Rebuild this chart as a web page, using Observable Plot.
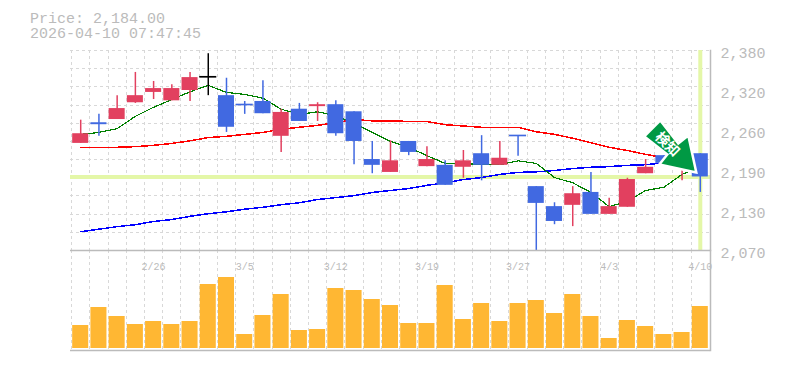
<!DOCTYPE html>
<html><head><meta charset="utf-8">
<script src="https://cdn.jsdelivr.net/npm/d3@7"></script>
<script src="https://cdn.jsdelivr.net/npm/@observablehq/plot@0.6"></script>
<style>
html,body{margin:0;padding:0;background:#fff;overflow:hidden}
#title{font:15px/15px "Liberation Mono",monospace;color:#bbb;padding:12px 0 0 30px;height:28px;white-space:pre}
svg{display:block}
</style></head><body>
<div id="title">Price: 2,184.00
2026-04-10 07:47:45</div>
<div id="chart"></div>
<script>
const dates=["2/19","2/20","2/24","2/25","2/26","2/27","3/2","3/3","3/4","3/5","3/6","3/9","3/10","3/11","3/12","3/13","3/16","3/17","3/18","3/19","3/23","3/24","3/25","3/26","3/27","3/30","3/31","4/1","4/2","4/3","4/6","4/7","4/8","4/9","4/10"];
const opens=[2236,2268,2273,2299,2315,2302,2318,2339,2310,2296,2301,2247,2289,2293,2296,2285,2211,2191,2239,2200,2202,2199,2220,2202,2248,2169,2138,2140,2160,2126,2137,2189,2217,2197,2220];
const highs=[2272,2281,2310,2346,2332,2327,2346,2375,2337,2301,2333,2289,2298,2299,2302,2285,2239,2240,2239,2231,2209,2225,2248,2239,2248,2169,2144,2169,2191,2151,2182,2211,2217,2209,2220];
const lows=[2236,2247,2273,2298,2304,2302,2301,2310,2253,2281,2282,2222,2270,2270,2247,2203,2189,2191,2217,2200,2171,2182,2178,2202,2216,2070,2110,2107,2126,2126,2137,2189,2205,2178,2160];
const closes=[2251,2265,2290,2310,2321,2321,2338,2338,2261,2295,2282,2284,2270,2296,2251,2239,2202,2209,2222,2211,2171,2209,2202,2213,2247,2143,2115,2158,2126,2138,2180,2199,2205,2209,2184];
const maShort=[2250,2253,2259,2278,2292,2304,2316,2326,2315,2312,2306,2289,2281,2285,2279,2267,2253,2239,2230,2217,2205,2205,2203,2203,2209,2205,2183,2175,2160,2138,2146,2163,2168,2188,2199];
const maMid=[2230,2230,2230,2231,2233,2236,2240,2245,2247,2250,2253,2258,2261,2264,2268,2273,2271,2271,2270,2270,2265,2263,2261,2261,2261,2254,2250,2244,2237,2230,2225,2219,2214,2209,2205];
const maLong=[2099,2103,2107,2110,2115,2118,2123,2127,2130,2134,2137,2141,2144,2149,2152,2155,2160,2163,2166,2171,2175,2180,2183,2188,2191,2192,2194,2197,2199,2200,2202,2203,2206,2209,2212];
const volume=[23,41,32,24,27,24,27,64,71,14,33,54,18,19,60,58,49,43,25,25,63,29,45,27,45,48,35,54,32,10,28,22,14,16,42];
const dateTicks=["2/26","3/5","3/12","3/19","3/27","4/3","4/10"];
const priceTicks=[2070,2132,2194,2256,2318,2380];
const lastPrice=2184, lastDate="4/10", flatDate="3/3", signalPrice=2191, signalLabel="検知";

const rows=dates.map((date,i)=>({date,open:opens[i],high:highs[i],low:lows[i],close:closes[i],short:maShort[i],mid:maMid[i],long:maLong[i],volume:volume[i]}));
const candleColor=d=>d.date===flatDate?"#000":d.close>d.open?"#e2405f":"#4169e1";
const gridC="#d8d8d8", axisC="#bbb", font='"Liberation Mono",monospace';
const base={width:785,marginLeft:70,marginRight:75,style:{background:"transparent",overflow:"visible",fontFamily:font}};
const xScale={domain:dates,padding:0.12,round:false,axis:null};
const dash={stroke:gridC,strokeWidth:1,strokeDasharray:"3,3",shapeRendering:"crispEdges"};
const gridRule=()=>Plot.ruleX(dates,{x:d=>d,dx:-9.1,...dash});
const arrow={draw(c,size){const s=Math.sqrt(size);
  [[-.74,-.16],[-.58,-.36],[-1.04,-.72],[-.72,-1.04],[-.36,-.58],[-.16,-.74]].reduce((ctx,[a,b])=>(ctx.lineTo(a*s,b*s),ctx),(c.moveTo(0,0),c));
  c.closePath();}};

const upper=Plot.plot({...base,height:210,marginTop:10,marginBottom:0,
  x:xScale,
  y:{domain:[2070,2380],axis:null},
  marks:[
    Plot.ruleY(d3.range(2070,2380.1,310/11),{y:d=>d,...dash}),
    gridRule(),
    Plot.ruleY([lastPrice],{stroke:"#e4f7a8",strokeWidth:4}),
    Plot.ruleX([lastDate],{stroke:"#e4f7a8",strokeWidth:4}),
    Plot.line(rows,{x:"date",y:"long",stroke:"#0000ff",strokeWidth:1.5,shapeRendering:"crispEdges"}),
    Plot.line(rows,{x:"date",y:"mid",stroke:"#ff0000",strokeWidth:1.5,shapeRendering:"crispEdges"}),
    Plot.line(rows,{x:"date",y:"short",stroke:"#008000",strokeWidth:1.2,shapeRendering:"crispEdges"}),
    Plot.ruleX(rows,{x:"date",y1:"low",y2:"high",stroke:candleColor,strokeWidth:1.5}),
    Plot.barY(rows,{x:"date",y1:"open",y2:"close",fill:candleColor,stroke:candleColor,strokeWidth:d=>Math.abs(d.open-d.close)<2?1:0}),
    Plot.dot([lastDate],{x:d=>d,y:()=>signalPrice,dx:-4,symbol:arrow,r:28.2,fill:"#009944",stroke:"#fff",strokeWidth:2.5}),
    Plot.text([signalLabel],{x:()=>lastDate,y:()=>signalPrice,text:d=>d,dx:-33,dy:-28,rotate:45,fill:"#fff",fontSize:14,fontWeight:"bold",fontFamily:'"Noto Sans CJK JP"'}),
    Plot.frame({anchor:"right",stroke:axisC,strokeWidth:1.5}),
    Plot.axisY(priceTicks,{anchor:"right",tickSize:0,tickPadding:10,dy:3,fontSize:15,fill:axisC,tickFormat:d=>d3.format(",")(Math.round(d/10)*10),label:null}),
  ]});
const lower=Plot.plot({...base,height:110,marginTop:0,marginBottom:10,
  x:xScale,
  y:{domain:[-2,98],axis:null},
  marks:[
    gridRule(),
    Plot.barY(rows,{x:"date",y:"volume",fill:"#ffb733"}),
    Plot.ruleY([-2,98],{stroke:axisC,strokeWidth:1.5}),
    Plot.frame({anchor:"right",stroke:axisC,strokeWidth:1.5}),
    Plot.text(dateTicks,{x:d=>d,text:d=>d,frameAnchor:"top",dy:12,fontSize:10,fill:axisC}),
  ]});
document.getElementById("chart").append(upper,lower);
</script>
</body></html>
